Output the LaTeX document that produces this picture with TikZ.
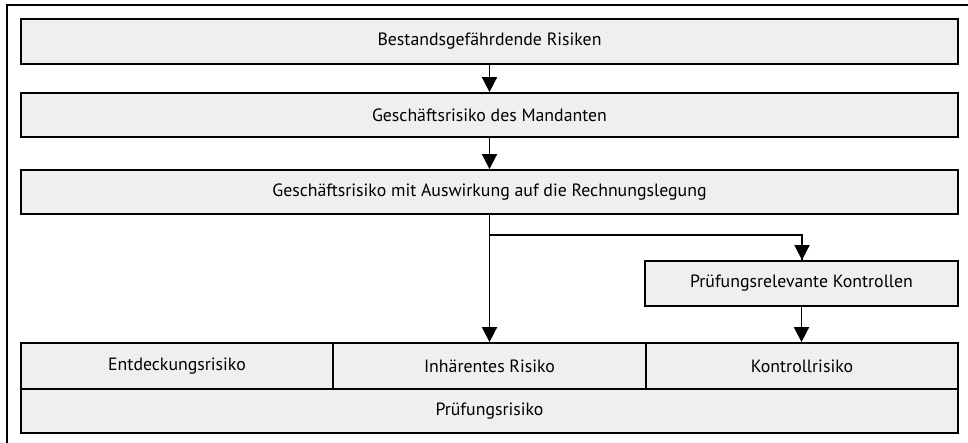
\documentclass[tikz,border=0pt]{standalone}
\usepackage{fontspec}
\setmainfont{PT Sans}
\usetikzlibrary{arrows.meta}
\definecolor{boxfill}{HTML}{EFEFEF}
\begin{document}
\begin{tikzpicture}[x=1pt,y=-1pt,
  rbox/.style={draw=black, line width=1.8pt, fill=boxfill, inner sep=0pt, font=\fontsize{17.8}{20}\selectfont},
  arr/.style={line width=1.8pt, -{Triangle[length=15pt,width=15pt]}},
  lnk/.style={line width=1.8pt}]
\useasboundingbox (0,0) rectangle (968,443);
\begin{scope}
\clip (0,0) rectangle (968,443);
\draw[line width=2pt] (7,460) -- (7,5) -- (990,5);
\end{scope}
\node[rbox, minimum width=937pt, minimum height=45pt] (b1) at (489.5,41.5) {Bestandsgefährdende Risiken};
\node[rbox, minimum width=937pt, minimum height=44pt] (b2) at (489.5,115) {Geschäftsrisiko des Mandanten};
\node[rbox, minimum width=937pt, minimum height=44pt] (b3) at (489.5,192) {Geschäftsrisiko mit Auswirkung auf die Rechnungslegung};
\node[rbox, minimum width=313pt, minimum height=45pt] (pk) at (801.5,283.5) {Prüfungsrelevante Kontrollen};
\node[rbox, minimum width=312pt, minimum height=46pt] (ent) at (177,366) {Entdeckungsrisiko};
\node[rbox, minimum width=313pt, minimum height=46pt] (inh) at (489.5,366) {Inhärentes Risiko};
\node[rbox, minimum width=312pt, minimum height=46pt] (kon) at (802,366) {Kontrollrisiko};
\node[rbox, minimum width=937pt, minimum height=44pt] (pr) at (489.5,411) {Prüfungsrisiko};
\coordinate (br) at (489.5,235);
\draw[arr] (b1.south) -- (b2.north);
\draw[arr] (b2.south) -- (b3.north);
\draw[arr] (b3.south) -- (inh.north);
\draw[lnk] (br) -| ([xshift=0.5pt]pk.north);
\draw[arr] ([xshift=0.5pt]br -| pk.north) -- ([xshift=0.5pt]pk.north);
\draw[arr] (pk.south) -- (pk.south |- kon.north);
\end{tikzpicture}
\end{document}
